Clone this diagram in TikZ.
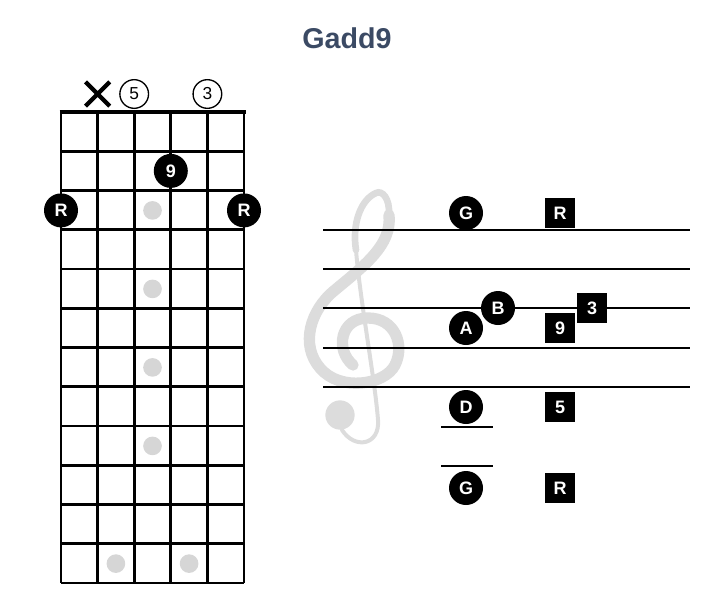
\documentclass[tikz,border=0pt]{standalone}
\usepackage{fontspec}
\setmainfont{Liberation Sans}
\usetikzlibrary{shapes.misc}

\definecolor{titleblue}{HTML}{3B4A64}
\definecolor{inlay}{HTML}{D6D6D6}
\definecolor{clefgray}{HTML}{DCDCDC}

\tikzset{
  tone/.style={circle,fill=black,text=white,inner sep=0pt,minimum size=25.5pt,font=\bfseries\fontsize{13.5}{13.5}\selectfont},
  degree/.style={rectangle,fill=black,text=white,inner sep=0pt,minimum size=23pt,font=\bfseries\fontsize{13.5}{13.5}\selectfont},
  openstr/.style={circle,draw,line width=1pt,inner sep=0pt,minimum size=21.5pt,font=\fontsize{13}{13}\selectfont},
  mutestr/.style={cross out,draw,line width=3.2pt,inner sep=0pt,minimum size=15pt},
  inlaydot/.style={circle,fill=inlay,inner sep=0pt,minimum size=14pt},
  fretline/.style={line width=2.2pt},
  staffline/.style={line width=1.6pt}
}

\begin{document}
\begin{tikzpicture}[x=0.75pt,y=-0.75pt]
    \useasboundingbox (0,0) rectangle (720,607);
    \node (title) at (347,38) {\color{titleblue}\bfseries\fontsize{21.5}{21.5}\selectfont Gadd9};

    % fretboard
    \draw[line width=3.2pt] (59.5,112) -- (245.5,112);
    \draw[fretline] (61,151.3) -- (244,151.3);
    \draw[fretline] (61,190.5) -- (244,190.5);
    \draw[fretline] (61,229.8) -- (244,229.8);
    \draw[fretline] (61,269) -- (244,269);
    \draw[fretline] (61,308.3) -- (244,308.3);
    \draw[fretline] (61,347.5) -- (244,347.5);
    \draw[fretline] (61,386.8) -- (244,386.8);
    \draw[fretline] (61,426) -- (244,426);
    \draw[fretline] (61,465.3) -- (244,465.3);
    \draw[fretline] (61,504.5) -- (244,504.5);
    \draw[fretline] (61,543.8) -- (244,543.8);
    \draw[fretline] (61,583) -- (244,583);
    \draw[fretline] (61,112) -- (61,583);
    \draw[fretline] (97.6,112) -- (97.6,583);
    \draw[fretline] (134.2,112) -- (134.2,583);
    \draw[fretline] (170.8,112) -- (170.8,583);
    \draw[fretline] (207.4,112) -- (207.4,583);
    \draw[fretline] (244,112) -- (244,583);

    \node[inlaydot] (dot3) at (152.5,210.4) {};
    \node[inlaydot] (dot5) at (152.5,288.9) {};
    \node[inlaydot] (dot7) at (152.5,367.4) {};
    \node[inlaydot] (dot9) at (152.5,445.9) {};
    \node[inlaydot] (dot12a) at (115.9,563.6) {};
    \node[inlaydot] (dot12b) at (189.1,563.6) {};

    \node[mutestr] (mute) at (97.6,94) {};
    \node[openstr] (open5) at (134.2,94) {5};
    \node[openstr] (open3) at (207.4,94) {3};

    \node[tone] (fretR1) at (61,210.4) {R};
    \node[tone] (fret9) at (170.8,170.9) {9};
    \node[tone] (fretR6) at (244,210.4) {R};

    % treble clef
    \begin{scope}[clefgray,line cap=round]
    \draw[line width=8.5pt] (353,365) .. controls (335,350) and (340,318) .. (368,318)
        .. controls (395,318) and (405,345) .. (395,365)
        .. controls (385,385) and (340,392) .. (320,368)
        .. controls (300,345) and (310,310) .. (335,290)
        .. controls (365,265) and (392,245) .. (389,215);
    \draw[line width=5pt] (389,215) .. controls (390,198) and (382,190) .. (376,193)
        .. controls (360,200) and (352,225) .. (356,250);
    \draw[line width=3pt] (356,250) .. controls (360,300) and (375,380) .. (378,420)
        .. controls (380,445) and (355,450) .. (342,430);
    \fill (340,415) circle (11pt);
    \end{scope}

    % staff
    \draw[staffline] (323,230) -- (690,230);
    \draw[staffline] (323,269) -- (690,269);
    \draw[staffline] (323,308) -- (690,308);
    \draw[staffline] (323,348) -- (690,348);
    \draw[staffline] (323,387) -- (690,387);
    \draw[staffline] (441,427) -- (493,427);
    \draw[staffline] (441,466) -- (493,466);

    \node[tone] (noteG) at (466,213) {G};
    \node[tone] (noteA) at (466,328) {A};
    \node[tone] (noteB) at (498,308) {B};
    \node[tone] (noteD) at (466,407) {D};
    \node[tone] (noteGlow) at (466,488) {G};

    \node[degree] (degR) at (560,213) {R};
    \node[degree] (deg9) at (560,328) {9};
    \node[degree] (deg3) at (592,308) {3};
    \node[degree] (deg5) at (560,407) {5};
    \node[degree] (degRlow) at (560,488) {R};
\end{tikzpicture}
\end{document}
